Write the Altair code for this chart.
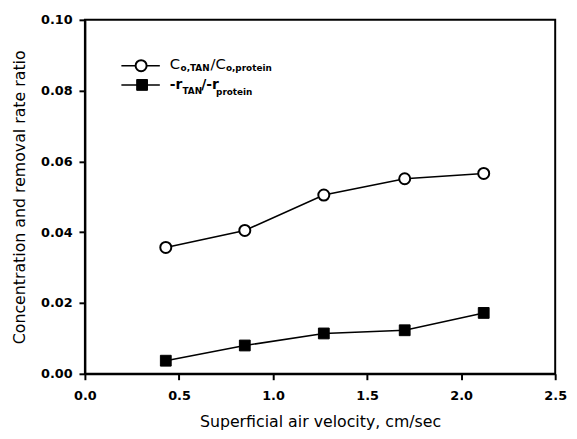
import altair as alt
import pandas as pd

# ---- data ----
velocity = [0.43, 0.85, 1.27, 1.70, 2.12]
conc_ratio = [0.0357, 0.0405, 0.0505, 0.0551, 0.0566]   # C_o,TAN / C_o,protein
rate_ratio = [0.0037, 0.0080, 0.0114, 0.0123, 0.0172]   # -r_TAN / -r_protein
x_ticks = [0.0, 0.5, 1.0, 1.5, 2.0, 2.5]
y_ticks = [0.00, 0.02, 0.04, 0.06, 0.08, 0.10]
series_names = ["conc", "rate"]

df = pd.DataFrame({
    "x": velocity + velocity,
    "y": conc_ratio + rate_ratio,
    "series": [series_names[0]] * len(velocity) + [series_names[1]] * len(velocity),
})

W, H = 477, 359
FONT = "DejaVu Sans"

xs = alt.Scale(domain=[0, 2.5], nice=False, zero=False)
ys = alt.Scale(domain=[0, 0.10], nice=False, zero=False)

x_axis = alt.Axis(values=x_ticks, format=".1f", title="Superficial air velocity, cm/sec",
                  grid=False, domain=True, domainColor="black", domainWidth=2,
                  tickColor="black", tickWidth=2, tickSize=6, labelFont=FONT,
                  labelFontSize=13, labelFontWeight="bold", labelColor="black",
                  labelPadding=10, labelFlush=False, titleFont=FONT, titleFontSize=16,
                  titleFontWeight="normal", titleColor="black", titlePadding=11)
y_axis = alt.Axis(values=y_ticks, format=".2f", title="Concentration and removal rate ratio",
                  grid=False, domain=True, domainColor="black", domainWidth=2,
                  tickColor="black", tickWidth=2, tickSize=6, labelFont=FONT,
                  labelFontSize=13, labelFontWeight="bold", labelColor="black",
                  labelPadding=7, labelFlush=False, titleFont=FONT, titleFontSize=16,
                  titleFontWeight="normal", titleColor="black", titlePadding=13)

base = alt.Chart(df).encode(
    x=alt.X("x:Q", scale=xs, axis=x_axis),
    y=alt.Y("y:Q", scale=ys, axis=y_axis),
)

lines = base.mark_line(color="black", strokeWidth=1.6).encode(detail="series:N")
circles = base.transform_filter(alt.datum.series == series_names[0]).mark_point(
    shape="circle", size=125, filled=True, fill="white", stroke="black",
    strokeWidth=2, opacity=1)
squares = base.transform_filter(alt.datum.series == series_names[1]).mark_point(
    shape="square", size=120, filled=True, fill="black", stroke="black",
    strokeWidth=1, opacity=1)

# ---- hand-built legend (with subscripts) ----
one = pd.DataFrame({"k": [0]})


def txt(s, x, y, size, weight="bold"):
    return alt.Chart(one).mark_text(
        text=s, align="left", baseline="alphabetic", font=FONT, fontSize=size,
        fontWeight=weight, color="black"
    ).encode(x=alt.value(x), y=alt.value(y))


def seg(x1, x2, y):
    return alt.Chart(one).mark_rule(color="black", strokeWidth=1.6).encode(
        x=alt.value(x1), x2=alt.value(x2), y=alt.value(y))


leg = [
    seg(37, 76, 46.5),
    alt.Chart(one).mark_point(shape="circle", size=125, filled=True, fill="white",
                              stroke="black", strokeWidth=2, opacity=1
                              ).encode(x=alt.value(57), y=alt.value(46.5)),
    seg(37, 76, 66),
    alt.Chart(one).mark_point(shape="square", size=120, filled=True, fill="black",
                              stroke="black", strokeWidth=1, opacity=1
                              ).encode(x=alt.value(58), y=alt.value(66)),
    txt("C", 86, 49.5, 15, "normal"),
    txt("o,TAN", 97, 52, 9),
    txt("/C", 127.5, 49.5, 15, "normal"),
    txt("o,protein", 143, 52, 9),
    txt("-r", 86, 70, 14),
    txt("TAN", 99, 75, 9),
    txt("/-r", 118, 70, 14),
    txt("protein", 133, 76, 9),
]

chart = alt.layer(lines, circles, squares, *leg).properties(
    width=W, height=H,
    autosize=alt.AutoSizeParams(type="none"),
    padding={"left": 78, "top": 9, "right": 14, "bottom": 55},
    background="white",
).configure_view(stroke="black", strokeWidth=2)

chart.save("out.html", embed_options={"renderer": "svg", "actions": False})
